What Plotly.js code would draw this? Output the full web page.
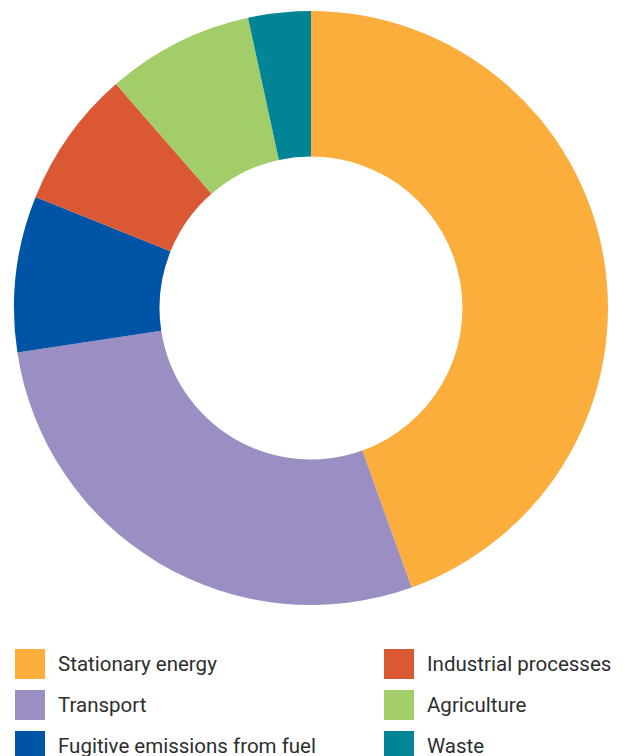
<!DOCTYPE html>
<html>
<head>
<meta charset="utf-8">
<script src="https://cdn.plot.ly/plotly-3.0.1.min.js"></script>
<style>html,body{margin:0;padding:0;background:#fff;}#chart{width:627px;height:756px;}</style>
</head>
<body>
<div id="chart"></div>
<script>
const categories = ["Stationary energy", "Transport", "Fugitive emissions from fuel", "Industrial processes", "Agriculture", "Waste"];
const values = [44.5, 28.1, 8.5, 7.5, 8.0, 3.4];
const colors = ["#FBAE3C", "#9B8EC3", "#0054A6", "#DA5833", "#A2CD68", "#008496"];
const legendOrder = ["Stationary energy", "Industrial processes", "Transport", "Agriculture", "Fugitive emissions from fuel", "Waste"];

const W = 627, H = 756;
const px = x => x / W;
const py = y => 1 - y / H;

const shapes = [];
const annotations = [];
legendOrder.forEach((name, i) => {
  const col = i % 2, row = Math.floor(i / 2);
  const sx = col === 0 ? 15 : 384;
  const cy = 664 + row * 41;
  const c = colors[categories.indexOf(name)];
  shapes.push({type: 'rect', xref: 'paper', yref: 'paper',
    x0: px(sx), x1: px(sx + 30), y0: py(cy - 15), y1: py(cy + 15),
    fillcolor: c, line: {width: 0}});
  annotations.push({xref: 'paper', yref: 'paper', x: px(sx + 41), y: py(cy),
    xanchor: 'left', yanchor: 'middle', text: name, showarrow: false,
    font: {family: 'Roboto, sans-serif', size: 20.5, color: '#2e2e2e'}});
});

const data = [{
  type: 'pie',
  labels: categories,
  values: values,
  sort: false,
  direction: 'clockwise',
  rotation: 0,
  hole: 0.51,
  textinfo: 'none',
  hoverinfo: 'label+percent',
  marker: {colors: colors, line: {width: 0}},
  domain: {x: [px(311 - 297), px(311 + 297)], y: [py(605), py(11)]},
  showlegend: false
}];

const layout = {
  width: W, height: H,
  margin: {l: 0, r: 0, t: 0, b: 0},
  paper_bgcolor: '#ffffff',
  showlegend: false,
  shapes: shapes,
  annotations: annotations
};
Plotly.newPlot('chart', data, layout, {displayModeBar: false, staticPlot: true});
</script>
</body>
</html>
